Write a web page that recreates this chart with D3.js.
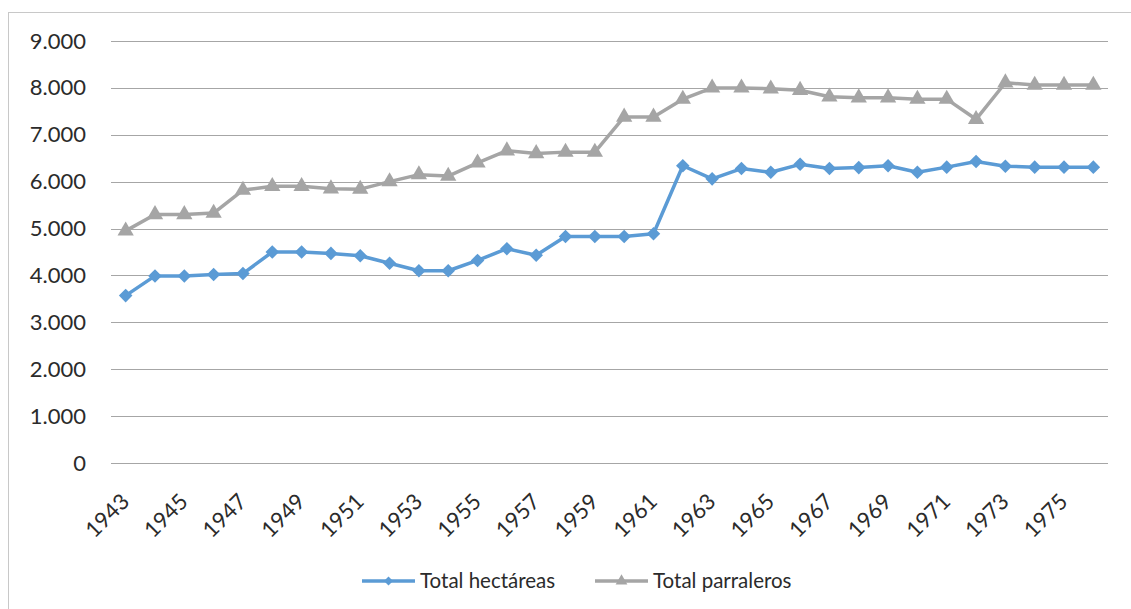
<!DOCTYPE html>
<html>
<head>
<meta charset="utf-8">
<script src="https://cdn.jsdelivr.net/npm/d3@7"></script>
<style>
  html, body { margin: 0; padding: 0; background: #fff; }
  svg { display: block; }
  text { font-family: Lato, "Open Sans", sans-serif; fill: #2b2b2b; }
</style>
</head>
<body>
<svg id="chart" width="1131" height="609"></svg>
<script>
// Years on the category axis
const years = [1943, 1944, 1945, 1946, 1947, 1948, 1949, 1950, 1951, 1952,
               1953, 1954, 1955, 1956, 1957, 1958, 1959, 1960, 1961, 1962,
               1963, 1964, 1965, 1966, 1967, 1968, 1969, 1970, 1971, 1972,
               1973, 1974, 1975, 1976];

// Total hectares per year
const hectareas = [3570, 3990, 3990, 4020, 4040, 4500, 4500, 4470, 4420, 4260,
                   4100, 4100, 4320, 4570, 4430, 4830, 4830, 4830, 4890, 6340,
                   6060, 6280, 6200, 6370, 6280, 6300, 6340, 6200, 6310, 6430,
                   6330, 6310, 6310, 6310];

// Total number of vine growers per year
const parraleros = [4950, 5300, 5300, 5330, 5820, 5900, 5900, 5850, 5840, 6000,
                    6150, 6120, 6400, 6660, 6600, 6630, 6630, 7380, 7380, 7760,
                    8000, 8000, 7980, 7950, 7810, 7790, 7790, 7760, 7760, 7330,
                    8110, 8060, 8060, 8060];

const yTicks = [0, 1000, 2000, 3000, 4000, 5000, 6000, 7000, 8000, 9000];
const xTickYears = years.filter((y, i) => i % 2 === 0);

const seriesNames = ["Total hectáreas", "Total parraleros"];
const seriesColors = ["#5B9BD5", "#A5A5A5"];

const svg = d3.select("#chart");

// outer chart frame
svg.append("rect")
  .attr("x", 8.5).attr("y", 12.5)
  .attr("width", 1200).attr("height", 700)
  .attr("fill", "none").attr("stroke", "#c8c8c8").attr("stroke-width", 1);

const x = d3.scaleBand().domain(years).range([111, 1108]);
const y = d3.scaleLinear().domain([0, 9000]).range([463, 41]);

const esLocale = d3.formatLocale({ decimal: ",", thousands: ".", grouping: [3], currency: ["", ""] });
const fmt = esLocale.format(",");

// horizontal gridlines
svg.append("g")
  .selectAll("line")
  .data(yTicks)
  .join("line")
  .attr("x1", 111).attr("x2", 1108)
  .attr("y1", d => Math.round(y(d)) + 0.5)
  .attr("y2", d => Math.round(y(d)) + 0.5)
  .attr("stroke", "#a6a6a6").attr("stroke-width", 1);

// y axis labels
const yAxis = d3.axisLeft(y).tickValues(yTicks).tickFormat(fmt).tickSize(0).tickPadding(25);
const yG = svg.append("g").attr("transform", "translate(111,0)").call(yAxis);
yG.select(".domain").remove();
yG.selectAll("text")
  .attr("font-family", "Lato, 'Open Sans', sans-serif")
  .attr("font-size", 22).attr("fill", "#2b2b2b");

// x axis labels, rotated
const xAxis = d3.axisBottom(x).tickValues(xTickYears).tickSize(0);
const xG = svg.append("g").attr("transform", "translate(0,463)").call(xAxis);
xG.select(".domain").remove();
xG.selectAll("text")
  .attr("font-family", "Lato, 'Open Sans', sans-serif")
  .attr("font-size", 22).attr("fill", "#2b2b2b")
  .attr("text-anchor", "end")
  .attr("dy", 0).attr("y", 0)
  .attr("transform", "translate(5,40) rotate(-45)");

const line = d3.line()
  .x((d, i) => x(years[i]) + x.bandwidth() / 2)
  .y(d => y(d));

const diamond = d3.symbol().type(d3.symbolSquare).size(92);
const triangle = d3.symbol().type(d3.symbolTriangle).size(115);

function drawSeries(values, color, sym, rotate) {
  const g = svg.append("g");
  g.append("path")
    .datum(values)
    .attr("d", line)
    .attr("fill", "none")
    .attr("stroke", color)
    .attr("stroke-width", 3.5)
    .attr("stroke-linejoin", "round");
  g.selectAll("path.marker")
    .data(values)
    .join("path")
    .attr("class", "marker")
    .attr("d", sym)
    .attr("fill", color)
    .attr("transform", (d, i) => `translate(${x(years[i]) + x.bandwidth() / 2},${y(d)}) rotate(${rotate})`);
}

drawSeries(parraleros, seriesColors[1], triangle, 0);
drawSeries(hectareas, seriesColors[0], diamond, 45);

// legend
const legendItems = [
  { name: seriesNames[0], color: seriesColors[0], x0: 362, sym: d3.symbol().type(d3.symbolSquare).size(40), rot: 45 },
  { name: seriesNames[1], color: seriesColors[1], x0: 595, sym: d3.symbol().type(d3.symbolTriangle).size(60), rot: 0 }
];
const legY = 581;
const lg = svg.append("g");
legendItems.forEach(it => {
  lg.append("line")
    .attr("x1", it.x0).attr("x2", it.x0 + 53)
    .attr("y1", legY).attr("y2", legY)
    .attr("stroke", it.color).attr("stroke-width", 3.5);
  lg.append("path")
    .attr("d", it.sym)
    .attr("fill", it.color)
    .attr("transform", `translate(${it.x0 + 26.5},${legY}) rotate(${it.rot})`);
  lg.append("text")
    .attr("x", it.x0 + 58).attr("y", legY)
    .attr("dy", "0.35em")
    .attr("font-size", 20.5)
    .text(it.name);
});
</script>
</body>
</html>
